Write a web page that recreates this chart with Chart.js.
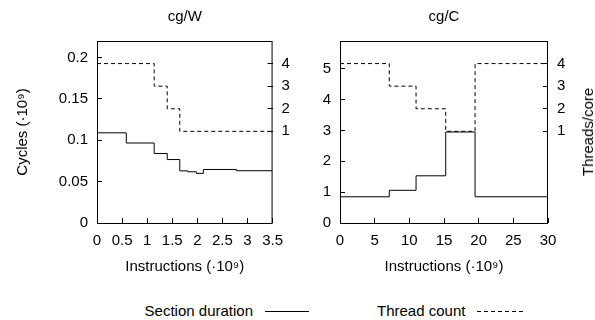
<!DOCTYPE html>
<html>
<head>
<meta charset="utf-8">
<script src="https://cdn.jsdelivr.net/npm/chart.js@4.4.0/dist/chart.umd.min.js"></script>
<style>
  body { margin: 0; background: #fff; }
  #wrap { position: relative; width: 595px; height: 320px; font-family: 'Liberation Sans', Arial, sans-serif; font-size: 15px; color: #000; }
  .panel { position: absolute; top: 0; height: 290px; }
  #y2title { position: absolute; left: 588px; top: 132px; transform: translate(-50%, -50%) rotate(-90deg); white-space: nowrap; line-height: 18px; }
  .leg { position: absolute; top: 302px; line-height: 18px; white-space: nowrap; }
  .legline { position: absolute; top: 305px; }
</style>
</head>
<body>
<div id="wrap">
  <div class="panel" style="left:0;width:297px"><canvas id="chartW"></canvas></div>
  <div class="panel" style="left:297px;width:298px"><canvas id="chartC"></canvas></div>
  <div id="y2title">Threads/core</div>
  <span class="leg" style="right:342px">Section duration</span>
  <svg class="legline" style="left:265px" width="44" height="12"><line x1="0" y1="6.5" x2="44" y2="6.5" stroke="#000" stroke-width="1"/></svg>
  <span class="leg" style="left:377px">Thread count</span>
  <svg class="legline" style="left:477px" width="46" height="12"><line x1="0" y1="6.5" x2="46" y2="6.5" stroke="#000" stroke-width="1" stroke-dasharray="4,3"/></svg>
</div>
<script>
// cg/W : section boundaries (instructions, 1e9), cycles per section (1e9), threads per core
const wInstr = [0, 0.584, 1.14, 1.40, 1.65, 1.81, 1.98, 2.12, 2.78, 3.5];
const wCycles = [0.109, 0.0967, 0.084, 0.0767, 0.063, 0.0619, 0.0600, 0.0647, 0.0632];
const wThreads = [4, 4, 3, 2, 1, 1, 1, 1, 1];

// cg/C
const cInstr = [0, 7.11, 10.97, 15.25, 19.48, 30];
const cCycles = [0.85, 1.06, 1.53, 2.95, 0.85];
const cThreads = [4, 3, 2, 1, 4];

// tick labels
const wXTicks = [0, 0.5, 1, 1.5, 2, 2.5, 3, 3.5];
const wYTicks = [0, 0.05, 0.1, 0.15, 0.2];
const cXTicks = [0, 5, 10, 15, 20, 25, 30];
const cYTicks = [0, 1, 2, 3, 4, 5];
const threadTicks = [1, 2, 3, 4];

Chart.defaults.font.family = "'Liberation Sans', Arial, sans-serif";
Chart.defaults.font.size = 15;
Chart.defaults.color = '#000';

function steps(xs, vals) {
    const pts = vals.map((v, i) => ({ x: xs[i], y: v }));
    pts.push({ x: xs[xs.length - 1], y: vals[vals.length - 1] });
    return pts;
}

const fmt = v => String(+Number(v).toFixed(2));
const useTicks = list => scale => { scale.ticks = list.map(v => ({ value: v })); };

// black box round the plot area, and the panel title above it
const framePlugin = {
    id: 'frame',
    afterDraw(chart, args, opts) {
        const { ctx, chartArea: a } = chart;
        ctx.save();
        ctx.strokeStyle = '#000';
        ctx.lineWidth = 1;
        ctx.strokeRect(a.left + 0.5, a.top + 0.5, a.right - a.left - 1, a.bottom - a.top);
        ctx.font = "15px 'Liberation Sans', Arial, sans-serif";
        ctx.fillStyle = '#000';
        ctx.textAlign = 'center';
        ctx.textBaseline = 'middle';
        ctx.fillText(opts.text, (a.left + a.right) / 2, 17);
        ctx.restore();
    }
};

function makeChart(id, cfg) {
    const gridOpts = { drawOnChartArea: false, tickLength: -5, color: '#000', lineWidth: 1 };
    new Chart(document.getElementById(id), {
        type: 'line',
        data: {
            datasets: [{
                label: 'Section duration',
                data: steps(cfg.instr, cfg.cycles),
                yAxisID: 'y',
                stepped: 'before',
                borderColor: '#000',
                borderWidth: 1,
                pointRadius: 0,
                fill: false
            }, {
                label: 'Thread count',
                data: steps(cfg.instr, cfg.threads),
                yAxisID: 'y2',
                stepped: 'before',
                borderColor: '#000',
                borderWidth: 1,
                borderDash: [4, 3],
                pointRadius: 0,
                fill: false
            }]
        },
        options: {
            responsive: true,
            maintainAspectRatio: false,
            animation: false,
            layout: { padding: { top: 41, left: 0, right: 0, bottom: 0 } },
            plugins: {
                legend: { display: false },
                tooltip: { enabled: false },
                frame: { text: cfg.title }
            },
            scales: {
                x: {
                    type: 'linear',
                    position: 'bottom',
                    min: cfg.xTicks[0],
                    max: cfg.xTicks[cfg.xTicks.length - 1],
                    afterBuildTicks: useTicks(cfg.xTicks),
                    afterFit: s => { s.height = 67; },
                    grid: gridOpts,
                    border: { display: false },
                    ticks: { padding: 14, maxRotation: 0, autoSkip: false, callback: fmt },
                    title: { display: true, text: 'Instructions (·10⁹)', padding: { top: 0, bottom: 14 } }
                },
                y: {
                    position: 'left',
                    min: 0,
                    max: cfg.yMax,
                    afterBuildTicks: useTicks(cfg.yTicks),
                    afterFit: s => { s.width = cfg.leftW; },
                    grid: gridOpts,
                    border: { display: false },
                    ticks: { padding: 14, callback: fmt },
                    title: { display: cfg.yTitle !== '', text: cfg.yTitle, padding: { top: 14, bottom: 0 } }
                },
                y2: {
                    position: 'right',
                    min: -3.06,
                    max: 5.0,
                    afterBuildTicks: useTicks(threadTicks),
                    afterFit: s => { s.width = cfg.rightW; },
                    grid: gridOpts,
                    border: { display: false },
                    ticks: { padding: 14, callback: fmt }
                }
            }
        },
        plugins: [framePlugin]
    });
}

makeChart('chartW', {
    title: 'cg/W', instr: wInstr, cycles: wCycles, threads: wThreads,
    xTicks: wXTicks, yTicks: wYTicks, yMax: 0.22,
    yTitle: 'Cycles (·10⁹)', leftW: 97, rightW: 22
});

makeChart('chartC', {
    title: 'cg/C', instr: cInstr, cycles: cCycles, threads: cThreads,
    xTicks: cXTicks, yTicks: cYTicks, yMax: 5.9,
    yTitle: '', leftW: 43, rightW: 47
});
</script>
</body>
</html>
